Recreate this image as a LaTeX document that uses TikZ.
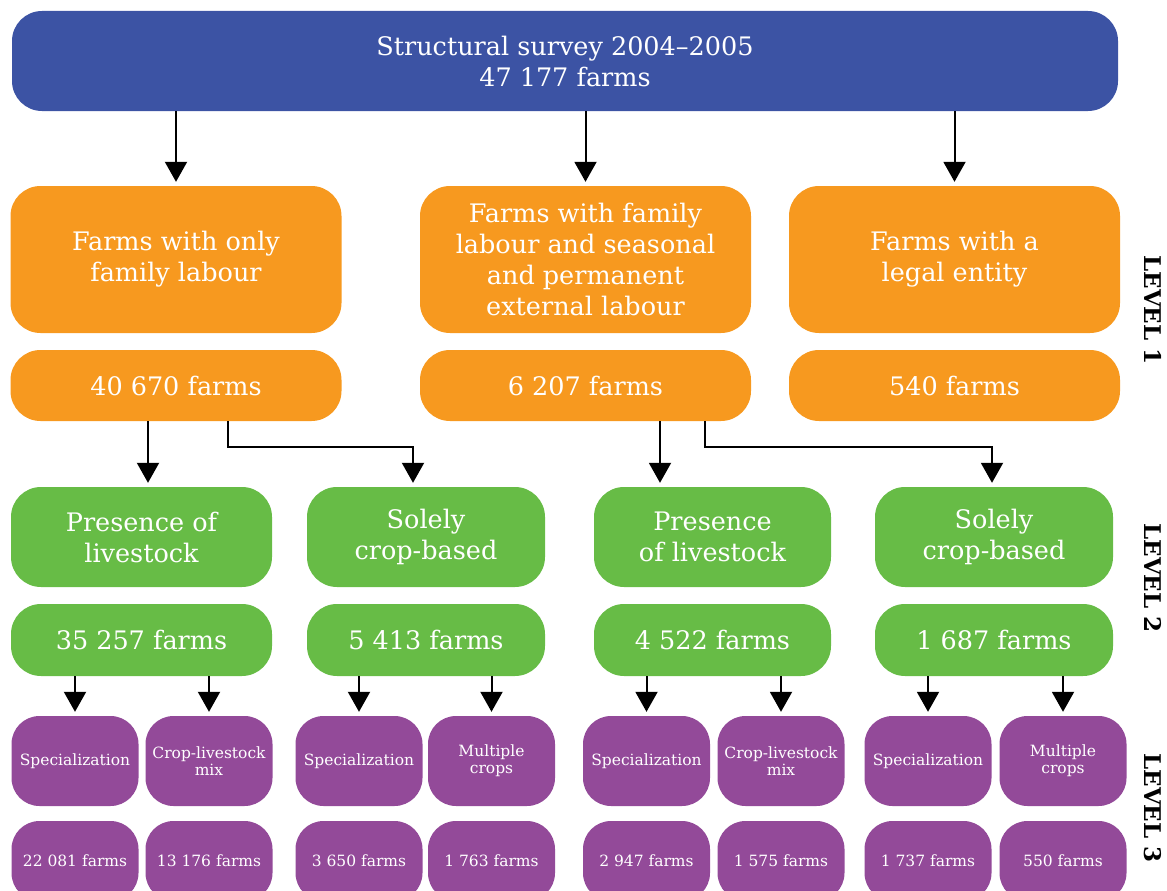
\documentclass[tikz,border=0pt]{standalone}
\usepackage{fontspec}
\setmainfont{DejaVu Serif}
\usetikzlibrary{arrows.meta,calc}
\definecolor{survblue}{HTML}{3C53A4}
\definecolor{farmorange}{HTML}{F7991F}
\definecolor{farmgreen}{HTML}{67BC46}
\definecolor{farmpurple}{HTML}{934A99}
\begin{document}
\begin{tikzpicture}[x=1pt,y=-1pt,
  box/.style={rounded corners=30pt, text=white, align=center, inner sep=0pt,
    font=\fontsize{25.5}{31}\selectfont},
  topbox/.style={box, fill=survblue, minimum width=1106pt, minimum height=100pt},
  otitle/.style={box, fill=farmorange, minimum width=331pt, minimum height=147pt},
  onum/.style={box, fill=farmorange, minimum width=331pt, minimum height=71pt},
  gtitle/.style={box, fill=farmgreen, minimum height=100pt},
  gnum/.style={box, fill=farmgreen, minimum height=72pt},
  pbox/.style={box, rounded corners=28pt, fill=farmpurple, minimum width=127pt,
    font=\fontsize{15.5}{17}\selectfont},
  ptitle/.style={pbox, minimum height=90pt},
  pnum/.style={pbox, minimum height=80pt},
  arr/.style={line width=2pt, -{Triangle[length=20pt,width=22pt]}, shorten >=4pt},
  lvl/.style={rotate=-90, font=\bfseries\fontsize{23}{23}\selectfont}]
\clip (0,0) rectangle (1167,891);

% root
\node[topbox] (top) at (565,61) {Structural survey 2004–2005\\47 177 farms};

% level 1
\node[otitle] (o1) at (176,259.5) {Farms with only\\family labour};
\node[otitle] (o2) at (585.5,259.5) {Farms with family\\labour and seasonal\\and permanent\\external labour};
\node[otitle] (o3) at (954.5,259.5) {Farms with a\\legal entity};
\node[onum] (n1) at (176,385.5) {40 670 farms};
\node[onum] (n2) at (585.5,385.5) {6 207 farms};
\node[onum] (n3) at (954.5,385.5) {540 farms};

% level 2
\node[gtitle, minimum width=261pt] (g1) at (141.5,537) {Presence of\\livestock};
\node[gtitle, minimum width=238pt] (g2) at (426,537) {Solely\\crop-based};
\node[gtitle, minimum width=237pt] (g3) at (712.5,537) {Presence\\of livestock};
\node[gtitle, minimum width=238pt] (g4) at (994,537) {Solely\\crop-based};
\node[gnum, minimum width=261pt] (m1) at (141.5,640) {35 257 farms};
\node[gnum, minimum width=238pt] (m2) at (426,640) {5 413 farms};
\node[gnum, minimum width=237pt] (m3) at (712.5,640) {4 522 farms};
\node[gnum, minimum width=238pt] (m4) at (994,640) {1 687 farms};

% level 3
\node[ptitle] (p1) at (75,761) {Specialization};
\node[ptitle] (p2) at (209,761) {Crop-livestock\\mix};
\node[ptitle] (p3) at (359,761) {Specialization};
\node[ptitle] (p4) at (491.5,761) {Multiple\\crops};
\node[ptitle] (p5) at (646.5,761) {Specialization};
\node[ptitle] (p6) at (781,761) {Crop-livestock\\mix};
\node[ptitle] (p7) at (928,761) {Specialization};
\node[ptitle] (p8) at (1063,761) {Multiple\\crops};
\node[pnum] (q1) at (75,861) {22 081 farms};
\node[pnum] (q2) at (209,861) {13 176 farms};
\node[pnum] (q3) at (359,861) {3 650 farms};
\node[pnum] (q4) at (491.5,861) {1 763 farms};
\node[pnum] (q5) at (646.5,861) {2 947 farms};
\node[pnum] (q6) at (781,861) {1 575 farms};
\node[pnum] (q7) at (928,861) {1 737 farms};
\node[pnum] (q8) at (1063,861) {550 farms};

% level labels
\node[lvl] (lv1) at (1153,310) {LEVEL 1};
\node[lvl] (lv2) at (1153,578) {LEVEL 2};
\node[lvl] (lv3) at (1153,808) {LEVEL 3};

% root to level 1
\foreach \o in {o1,o2,o3}
  \draw[arr] (\o.north |- top.south) -- (\o.north);

% level 1 to level 2
\coordinate (a1) at ($(n1.south)+(-28,0)$);
\coordinate (b1) at ($(n1.south)+(52,0)$);
\coordinate (e1) at (413,447);
\draw[arr] (a1) -- (a1 |- g1.north);
\draw[arr] (b1) |- (e1) -- (e1 |- g2.north);
\coordinate (a2) at ($(n2.south)+(74.5,0)$);
\coordinate (b2) at ($(n2.south)+(119.5,0)$);
\coordinate (e2) at (992,447);
\draw[arr] (a2) -- (a2 |- g3.north);
\draw[arr] (b2) |- (e2) -- (e2 |- g4.north);

% level 2 to level 3
\foreach \m/\p in {m1/p1,m1/p2,m2/p3,m2/p4,m3/p5,m3/p6,m4/p7,m4/p8}
  \draw[arr] (\p.north |- \m.south) -- (\p.north);
\end{tikzpicture}
\end{document}
